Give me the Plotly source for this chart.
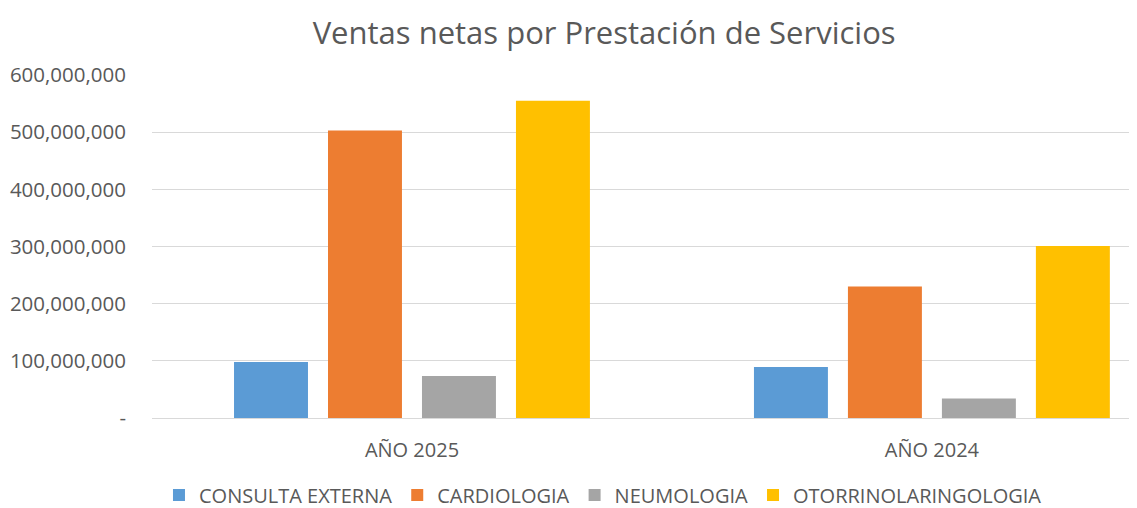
import plotly.graph_objects as go

categories = ["AÑO 2025", "AÑO 2024"]
series_names = ["CONSULTA EXTERNA", "CARDIOLOGIA", "NEUMOLOGIA", "OTORRINOLARINGOLOGIA"]
consulta_externa = [98_000_000, 89_000_000]
cardiologia = [503_000_000, 230_000_000]
neumologia = [73_500_000, 34_000_000]
otorrino = [555_000_000, 301_000_000]
series_values = [consulta_externa, cardiologia, neumologia, otorrino]
colors = ["#5B9BD5", "#ED7D31", "#A5A5A5", "#FFC000"]

tick_vals = [0, 100_000_000, 200_000_000, 300_000_000, 400_000_000, 500_000_000, 600_000_000]
tick_text = ["-", "100,000,000", "200,000,000", "300,000,000", "400,000,000", "500,000,000", "600,000,000"]

font_family = "Open Sans, Noto Sans, sans-serif"
text_color = "#595959"

fig = go.Figure()
for name, vals, col in zip(series_names, series_values, colors):
    fig.add_trace(go.Bar(x=categories, y=vals, name=name, marker=dict(color=col, line=dict(width=0))))

fig.update_layout(
    width=1129, height=500,
    paper_bgcolor="white", plot_bgcolor="white",
    margin=dict(l=144, r=7, t=67, b=90, autoexpand=False),
    barmode="group", bargap=0.277, bargroupgap=0.213,
    title=dict(text="Ventas netas por Prestación de Servicios", x=0.528, xanchor="center",
               xref="container", yref="container", y=0.95, yanchor="middle",
               font=dict(family=font_family, size=31, color=text_color)),
    font=dict(family=font_family, color=text_color),
    legend=dict(orientation="h", xref="container", yref="container",
                x=0.527, xanchor="center", y=0.026, yanchor="middle",
                font=dict(size=20, color=text_color), itemwidth=30, traceorder="normal"),
    showlegend=True,
)
fig.update_xaxes(range=[-0.5, 1.381], showgrid=False, showline=False, zeroline=False, automargin=False,
                 ticks="", tickfont=dict(size=20, color=text_color), ticklabelstandoff=18)
fig.update_yaxes(range=[0, 600_000_000], tickvals=tick_vals, ticktext=tick_text, automargin=False,
                 showgrid=True, gridcolor="#D9D9D9", gridwidth=1.3,
                 zeroline=True, zerolinecolor="#D9D9D9", zerolinewidth=1.3,
                 showline=False, ticks="", tickfont=dict(size=20.5, color=text_color),
                 ticklabelstandoff=25)

fig.write_html("out.html")
